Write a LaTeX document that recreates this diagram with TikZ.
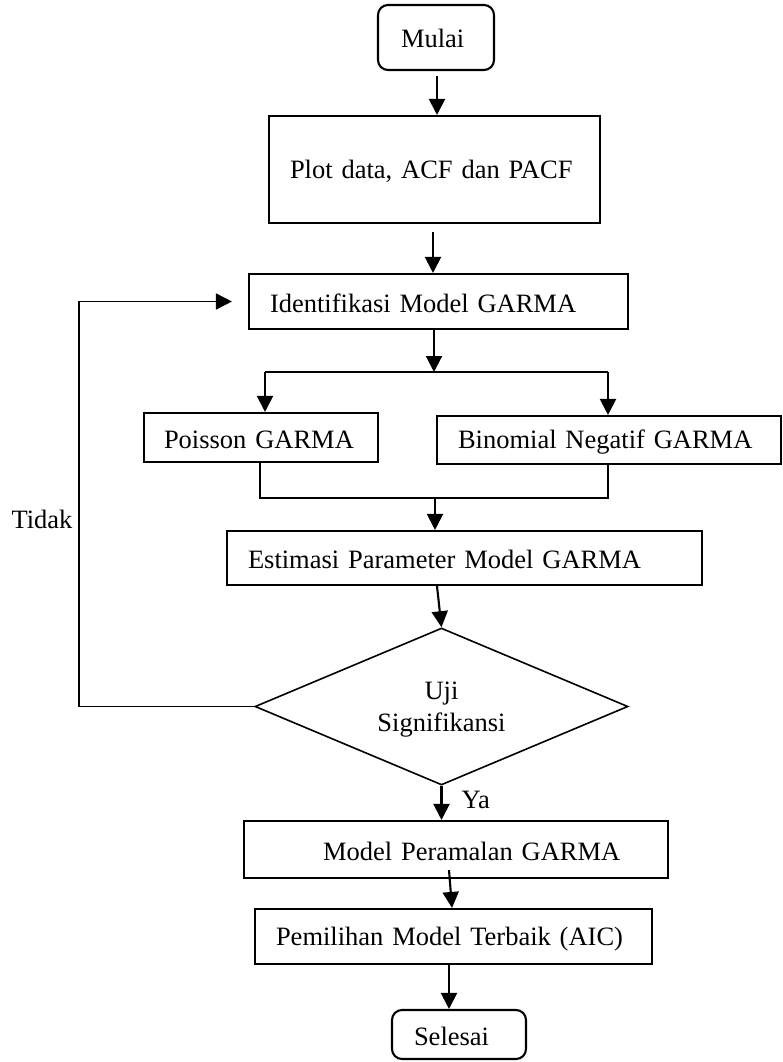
\documentclass[tikz,border=0pt]{standalone}
\usepackage{fontspec}
\setmainfont{Liberation Serif}
\usetikzlibrary{arrows.meta,shapes.geometric}
\newcommand\fcstrut{\rule[-2pt]{0pt}{25pt}}
\newcommand\fctxt[2]{\noindent\hspace*{#1}\fcstrut #2}
\begin{document}
\begin{tikzpicture}[x=1pt,y=-1pt,
  lw/.style={line width=2.1pt},
  box/.style={draw, lw, inner sep=0pt, align=left, font=\fontsize{26.5}{32}\selectfont},
  term/.style={box, rounded corners=10pt},
  dec/.style={draw, line width=1.6pt, diamond, aspect=2.4, inner sep=0pt, align=center,
              font=\fontsize{26.5}{32}\selectfont},
  lbl/.style={inner sep=0pt, font=\fontsize{26.5}{32}\selectfont},
  arr/.style={lw, -{Triangle[width=16pt,length=16pt]}},
  ln/.style={lw}]
\useasboundingbox (0,0) rectangle (782,1062);

% nodes
\node[term, text width=116pt, minimum height=65pt] (mulai) at (436,37.5) {\fctxt{23pt}{Mulai}};
\node[box, text width=331pt, minimum height=107pt] (plot) at (434.5,169.5) {\fctxt{21pt}{Plot data, ACF dan PACF}};
\node[box, text width=379pt, minimum height=55pt] (ident) at (438.5,301.5) {\fctxt{21pt}{Identifikasi Model GARMA}};
\node[box, text width=234pt, minimum height=49pt] (pois) at (261,437.5) {\fctxt{20pt}{Poisson GARMA}};
\node[box, text width=344pt, minimum height=48pt] (binom) at (609,440) {\fctxt{21pt}{Binomial Negatif GARMA}};
\node[box, text width=475pt, minimum height=54pt] (estim) at (464.5,558) {\fctxt{21pt}{Estimasi Parameter Model GARMA}};
\node[dec, minimum width=373pt, minimum height=157pt] (uji) at (441.5,706.5) {\fcstrut Uji\\\fcstrut Signifikansi};
\node[box, text width=424pt, minimum height=57pt] (model) at (456,849.5) {\fctxt{79pt}{Model Peramalan GARMA}};
\node[box, text width=397pt, minimum height=55pt] (pemil) at (453.5,936.5) {\fctxt{21pt}{Pemilihan Model Terbaik (AIC)}};
\node[term, text width=134pt, minimum height=49pt] (sel) at (459,1034.5) {\fctxt{22pt}{Selesai}};
\node[lbl] (tidak) at (42,519) {Tidak};

% helper coordinates
\coordinate (sc) at (434,372);
\coordinate (sl) at (265,372);
\coordinate (sr) at (608,372);
\coordinate (jl) at (260,498);
\coordinate (jr) at (608,498);
\coordinate (jc) at (435,498);
\coordinate (lp) at (79,707);

% connectors
\draw[arr] ([xshift=1pt,yshift=-5pt]mulai.south) -- ([xshift=1pt]mulai.south |- plot.north);
\draw[arr] ([xshift=-1.5pt,yshift=-8pt]plot.south) -- ([xshift=-1.5pt]plot.south |- ident.north);
\draw[arr] (ident.south -| sc) -- (sc);
\draw[ln] (sl) -- (sr);
\draw[arr] (sl) -- (sl |- pois.north);
\draw[arr] (sr) -- (sr |- binom.north);
\draw[ln] (pois.south -| jl) -- (jl) -- (jr) -- (binom.south -| jr);
\draw[arr] (jc) -- (jc |- estim.north);
\draw[arr] ([xshift=-27.5pt]estim.south) -- (uji.north);
\draw[arr] (uji.south) -- (uji.south |- model.north)
  node[lbl, midway, anchor=west, xshift=19pt, yshift=3pt] {Ya};
\draw[arr] ([xshift=-7pt,yshift=9pt]model.south) -- ([xshift=-1.5pt]pemil.north);
\draw[arr] ([xshift=-4.5pt]pemil.south) -- ([xshift=-4.5pt]pemil.south |- sel.north);
\draw[lw, line width=1.6pt, -{Triangle[width=16pt,length=16pt]}] (uji.west) -| (lp |- ident.west) -- ([xshift=-16pt]ident.west);
\end{tikzpicture}
\end{document}
